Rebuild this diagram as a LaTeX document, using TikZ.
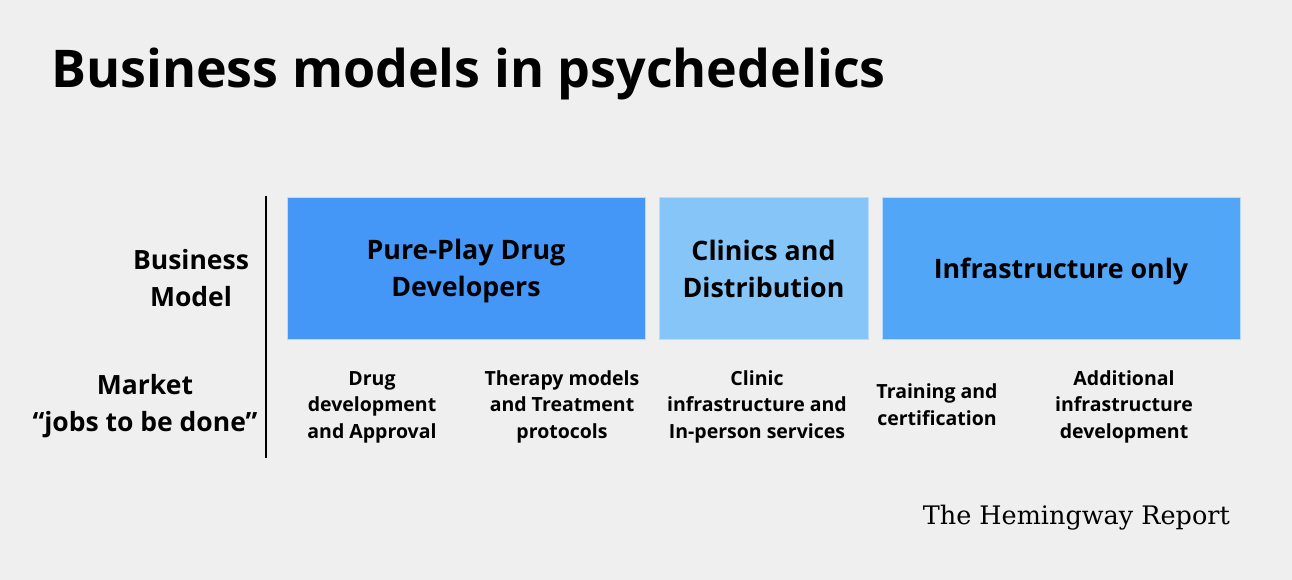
\documentclass[tikz,border=0pt]{standalone}
\usepackage{fontspec}
\setmainfont{Open Sans}
\newfontfamily\serifbrand{DejaVu Serif}
\definecolor{bg}{HTML}{EFEFEF}
\definecolor{boxA}{HTML}{4597F7}
\definecolor{boxB}{HTML}{85C5F7}
\definecolor{boxC}{HTML}{52A6F7}
\begin{document}
\begin{tikzpicture}[x=1pt,y=-1pt,
  modelbox/.style={draw=white!60!boxC, line width=0.8pt, inner sep=0pt, align=center,
    font=\fontsize{26.8}{37}\selectfont\bfseries},
  rowlabel/.style={align=center, font=\fontsize{26.5}{37}\selectfont\bfseries},
  jobtext/.style={align=center, font=\fontsize{19.5}{26.5}\selectfont\bfseries}
]
\fill[bg] (0,0) rectangle (1292,580);
\useasboundingbox (0,0) rectangle (1292,580);
\node[anchor=base west, inner sep=0pt, font=\fontsize{52}{60}\selectfont\bfseries] (title) at (51,88) {Business models in psychedelics};

\node[modelbox, fill=boxA, minimum width=358, minimum height=142] (m1) at (466,268) {};
\node[modelbox, fill=boxB, minimum width=209, minimum height=142] (m2) at (763.5,268) {};
\node[modelbox, fill=boxC, minimum width=358, minimum height=142] (m3) at (1061,268) {};
\node[modelbox, draw=none] (t1) at (466,271.5) {Pure-Play Drug\\Developers};
\node[modelbox, draw=none] (t2) at (763.5,268.5) {Clinics and\\Distribution};
\node[modelbox, draw=none] (t3) at (1061,271.5) {Infrastructure only};

\coordinate (vtop) at (266,196);
\coordinate (vbot) at (266,458);
\draw[line width=2pt] (vtop) -- (vbot);

\node[rowlabel] (bm) at (191,278) {Business\\Model};
\node[rowlabel] (mk) at (145,406.5) {Market\\“jobs to be done”};

\node[jobtext] (j1) at (372,407) {Drug\\development\\and Approval};
\node[jobtext] (j2) at (562,406.5) {Therapy models\\and Treatment\\protocols};
\node[jobtext] (j3) at (757,406.5) {Clinic\\infrastructure and\\In-person services};
\node[jobtext] (j4) at (937,404.5) {Training and\\certification};
\node[jobtext] (j5) at (1124,406.5) {Additional\\infrastructure\\development};

\node[anchor=east, inner sep=0pt, font=\serifbrand\fontsize{25.5}{30}\selectfont] (brand) at (1230,518) {The Hemingway Report};
\end{tikzpicture}
\end{document}
